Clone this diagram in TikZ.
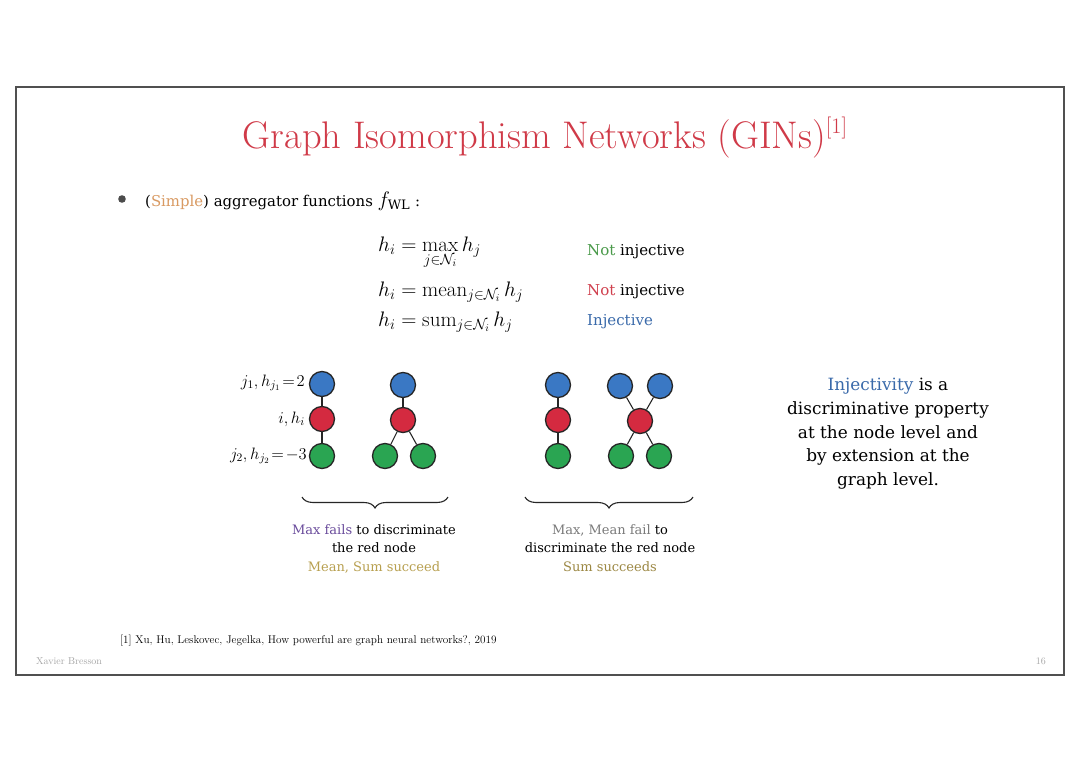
\RequirePackage{fix-cm}
\documentclass[tikz,border=0pt]{standalone}
\usepackage{amsmath,amssymb}
\usepackage{fontspec}
\newfontfamily\dvs{DejaVu Serif}
\usetikzlibrary{decorations.pathreplacing}
\definecolor{titlered}{HTML}{D03A48}
\definecolor{nblue}{HTML}{3A78C4}
\definecolor{nred}{HTML}{D42A40}
\definecolor{ngreen}{HTML}{2AA552}
\definecolor{simpleor}{HTML}{D99A62}
\definecolor{notgreen}{HTML}{4A9A4A}
\definecolor{notred}{HTML}{D0404E}
\definecolor{injblue}{HTML}{3A6AAA}
\definecolor{maxpurple}{HTML}{6A4C9C}
\definecolor{succolive}{HTML}{B8A050}
\definecolor{failgray}{HTML}{7A7A7A}
\definecolor{frame}{HTML}{505050}
\tikzset{
  gnode/.style={circle,minimum size=25pt,inner sep=0pt,draw=black!85,line width=1.3pt},
  bnode/.style={gnode,fill=nblue},
  rnode/.style={gnode,fill=nred},
  grnode/.style={gnode,fill=ngreen},
  gedge/.style={draw=black!85,line width=1.1pt},
  txt/.style={inner sep=0pt,text=black},
  bracestyle/.style={decorate,decoration={brace,mirror,amplitude=11pt},line width=1.1pt,draw=black!85}
}
\newcommand{\fs}[1]{\fontsize{#1}{#1}\selectfont}
\begin{document}
\begin{tikzpicture}[x=1pt,y=-1pt]
\useasboundingbox[fill=white] (0,0) rectangle (1080,763);
\draw[frame,line width=2pt] (16,87) rectangle (1064,675);
% title
\node[txt,anchor=base,text=titlered] (title) at (545,148) {\fs{38.5}Graph Isomorphism Networks (GINs)\raisebox{15pt}{\fs{22}[1]}};
% bullet
\fill[black!70] (122,199) circle (3.8pt);
\node[txt,anchor=base west] (bul) at (145,206) {\dvs\fs{14.9}(\textcolor{simpleor}{Simple}) aggregator functions \fs{21}$f_{\text{\fs{13}WL}}$\dvs\fs{14.9}~:};
% equations
\node[txt,anchor=base west] (eq1) at (378,251) {\fs{21}$h_i=\max\limits_{j\in\mathcal{N}_i} h_j$};
\node[txt,anchor=base west] (eq2) at (378,296) {\fs{21}$h_i=\mathrm{mean}_{j\in\mathcal{N}_i}\, h_j$};
\node[txt,anchor=base west] (eq3) at (378,326) {\fs{21}$h_i=\mathrm{sum}_{j\in\mathcal{N}_i}\, h_j$};
\node[txt,anchor=base west,font=\dvs\fs{15}] (l1) at (587,255) {\textcolor{notgreen}{Not} injective};
\node[txt,anchor=base west,font=\dvs\fs{15}] (l2) at (587,295) {\textcolor{notred}{Not} injective};
\node[txt,anchor=base west,font=\dvs\fs{15}] (l3) at (587,325) {\textcolor{injblue}{Injective}};
% graph 1
\node[bnode] (a1) at (322,384) {};
\node[rnode] (a2) at (322,419) {};
\node[grnode] (a3) at (322,456) {};
\draw[gedge] (a1) -- (a2) -- (a3);
\node[txt,anchor=east] (la1) at (305,383) {\fs{16.5}$j_1, h_{j_1}\!=\!2$};
\node[txt,anchor=east] (la2) at (305,419) {\fs{16.5}$i, h_i$};
\node[txt,anchor=east] (la3) at (307,456) {\fs{16.5}$j_2, h_{j_2}\!=\!-3$};
% graph 2
\node[bnode] (b1) at (403,385) {};
\node[rnode] (b2) at (403,420) {};
\node[grnode] (b3) at (385,456) {};
\node[grnode] (b4) at (423,456) {};
\draw[gedge] (b1) -- (b2);
\draw[gedge] (b2) -- (b3);
\draw[gedge] (b2) -- (b4);
% graph 3
\node[bnode] (c1) at (558,385) {};
\node[rnode] (c2) at (558,420) {};
\node[grnode] (c3) at (558,456) {};
\draw[gedge] (c1) -- (c2) -- (c3);
% graph 4
\node[bnode] (d1) at (620,386) {};
\node[bnode] (d2) at (660,386) {};
\node[rnode] (d3) at (640,421) {};
\node[grnode] (d4) at (621,456) {};
\node[grnode] (d5) at (659,456) {};
\draw[gedge] (d1) -- (d3);
\draw[gedge] (d2) -- (d3);
\draw[gedge] (d3) -- (d4);
\draw[gedge] (d3) -- (d5);
% braces
\coordinate (br1a) at (302,497);
\coordinate (br1b) at (448,497);
\coordinate (br2a) at (525,497);
\coordinate (br2b) at (693,497);
\draw[bracestyle] (br1a) -- (br1b);
\draw[bracestyle] (br2a) -- (br2b);
% captions
\node[txt,anchor=north,align=center,font=\dvs\fs{13}] (cap1) at (374,524) {\textcolor{maxpurple}{Max fails} to discriminate\\[5.5pt]the red node\\[5.5pt]\textcolor{succolive}{Mean, Sum succeed}};
\node[txt,anchor=north,align=center,font=\dvs\fs{13}] (cap2) at (610,524) {\textcolor{failgray}{Max, Mean fail} to\\[5.5pt]discriminate the red node\\[5.5pt]\textcolor{succolive!85!black}{Sum succeeds}};
% right text
\node[txt,anchor=north,align=center,font=\dvs\fs{16.9}] (rt) at (888,378) {\textcolor{injblue}{Injectivity} is a\\[6.85pt]discriminative property\\[6.85pt]at the node level and\\[6.85pt]by extension at the\\[6.85pt]graph level.};
% footnote
\node[txt,anchor=base west] (fn) at (120,643) {\fs{11.2}[1] Xu, Hu, Leskovec, Jegelka, How powerful are graph neural networks?, 2019};
\node[txt,anchor=base west,text=black!35] (ft1) at (36,664) {\fs{10}Xavier Bresson};
\node[txt,anchor=base east,text=black!35] (ft2) at (1046,664) {\fs{10}16};
\end{tikzpicture}
\end{document}
